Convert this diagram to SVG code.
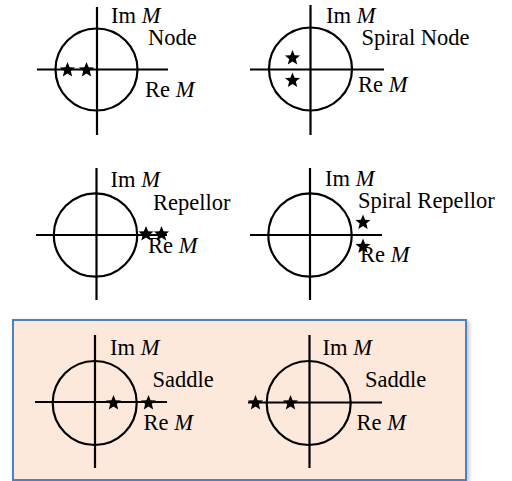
<svg xmlns="http://www.w3.org/2000/svg" width="512" height="481" viewBox="0 0 512 481">
<style>
.ax{stroke:#000;stroke-width:2.2;fill:none}
.t{font-family:"Liberation Serif","Times New Roman",serif;font-size:22.5px;fill:#000}
.i{font-style:italic}
</style>
<defs>
<filter id="sh" x="-5%" y="-5%" width="110%" height="115%"><feDropShadow dx="2" dy="2" stdDeviation="2" flood-color="#000" flood-opacity="0.25"/></filter>
<path id="star" d="M0,-8 L2.1,-2.7 L7.6,-2.5 L3.3,1.1 L4.7,6.5 L0,3.5 L-4.7,6.5 L-3.3,1.1 L-7.6,-2.5 L-2.1,-2.7 Z" fill="#000"/>
</defs>
<rect width="512" height="481" fill="#fff"/>
<rect id="box" x="13" y="320" width="453" height="160" fill="#fde9db" stroke="#4f81bd" stroke-width="2" filter="url(#sh)"/>

<g id="node">
<line class="ax" x1="97" y1="7" x2="97" y2="135"/>
<line class="ax" x1="37" y1="69.5" x2="168" y2="69.5"/>
<circle class="ax" cx="96.5" cy="69.5" r="41"/>
<use href="#star" x="67.5" y="70"/>
<use href="#star" x="86.5" y="70"/>
<text class="t" x="111" y="23">Im <tspan class="i">M</tspan></text>
<text class="t" x="148" y="45">Node</text>
<text class="t" x="145" y="97">Re <tspan class="i">M</tspan></text>
</g>

<g id="spiral-node">
<line class="ax" x1="310.5" y1="5" x2="310.5" y2="135"/>
<line class="ax" x1="250" y1="69.5" x2="384" y2="69.5"/>
<circle class="ax" cx="310.5" cy="69" r="41.5"/>
<use href="#star" x="292.5" y="58"/>
<use href="#star" x="292.5" y="80.5"/>
<text class="t" x="326" y="23">Im <tspan class="i">M</tspan></text>
<text class="t" x="361.5" y="45">Spiral Node</text>
<text class="t" x="358" y="92">Re <tspan class="i">M</tspan></text>
</g>

<g id="repellor">
<line class="ax" x1="96.5" y1="168" x2="96.5" y2="300"/>
<line class="ax" x1="36" y1="235" x2="167" y2="235"/>
<circle class="ax" cx="95.5" cy="235" r="41.7"/>
<use href="#star" x="146" y="234"/>
<use href="#star" x="161.5" y="234"/>
<text class="t" x="110.5" y="187">Im <tspan class="i">M</tspan></text>
<text class="t" x="153" y="210">Repellor</text>
<text class="t" x="148" y="253">Re <tspan class="i">M</tspan></text>
</g>

<g id="spiral-repellor">
<line class="ax" x1="310" y1="168" x2="310" y2="300"/>
<line class="ax" x1="250" y1="235" x2="382" y2="235"/>
<circle class="ax" cx="310" cy="235" r="41.7"/>
<use href="#star" x="363" y="222.5"/>
<use href="#star" x="363" y="246.5"/>
<text class="t" x="325" y="186">Im <tspan class="i">M</tspan></text>
<text class="t" x="358" y="208">Spiral Repellor</text>
<text class="t" x="360" y="262">Re <tspan class="i">M</tspan></text>
</g>

<g id="saddle-1">
<line class="ax" x1="95" y1="335" x2="95" y2="468"/>
<line class="ax" x1="35" y1="402" x2="167" y2="402"/>
<circle class="ax" cx="94.7" cy="403" r="42"/>
<use href="#star" x="113.5" y="403"/>
<use href="#star" x="148.5" y="403"/>
<text class="t" x="110" y="355">Im <tspan class="i">M</tspan></text>
<text class="t" x="152.5" y="387">Saddle</text>
<text class="t" x="143.5" y="430">Re <tspan class="i">M</tspan></text>
</g>

<g id="saddle-2">
<line class="ax" x1="309.5" y1="335" x2="309.5" y2="468"/>
<line class="ax" x1="248" y1="402.5" x2="382" y2="402.5"/>
<circle class="ax" cx="308.7" cy="403" r="42"/>
<use href="#star" x="255.5" y="403"/>
<use href="#star" x="290.5" y="403"/>
<text class="t" x="322.5" y="355">Im <tspan class="i">M</tspan></text>
<text class="t" x="365" y="387">Saddle</text>
<text class="t" x="356.5" y="430">Re <tspan class="i">M</tspan></text>
</g>
</svg>
